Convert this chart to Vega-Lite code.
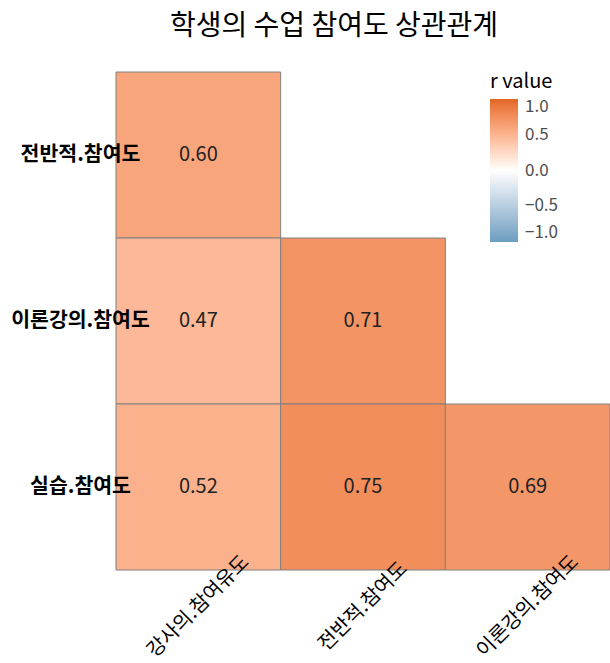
{
  "$schema": "https://vega.github.io/schema/vega-lite/v6.json",
  "width": 494,
  "height": 498,
  "autosize": {"type": "none"},
  "padding": {"left": 116, "top": 72, "right": 0, "bottom": 93},
  "background": "white",
  "config": {"view": {"stroke": null}, "font": "Noto Sans CJK KR"},
  "title": {
    "text": "학생의 수업 참여도 상관관계",
    "fontSize": 28,
    "fontWeight": "normal",
    "color": "black",
    "anchor": "middle",
    "dx": -29,
    "offset": 31
  },
  "data": {
    "values": [
      {"var1": "강사의.참여유도", "var2": "전반적.참여도", "r": 0.60},
      {"var1": "강사의.참여유도", "var2": "이론강의.참여도", "r": 0.47},
      {"var1": "강사의.참여유도", "var2": "실습.참여도", "r": 0.52},
      {"var1": "전반적.참여도", "var2": "이론강의.참여도", "r": 0.71},
      {"var1": "전반적.참여도", "var2": "실습.참여도", "r": 0.75},
      {"var1": "이론강의.참여도", "var2": "실습.참여도", "r": 0.69}
    ]
  },
  "encoding": {
    "x": {
      "field": "var1",
      "type": "nominal",
      "sort": ["강사의.참여유도", "전반적.참여도", "이론강의.참여도"],
      "scale": {"paddingInner": 0, "paddingOuter": 0},
      "axis": {
        "title": null,
        "orient": "bottom",
        "ticks": false,
        "tickSize": 0,
        "domain": false,
        "grid": false,
        "labelAngle": -45,
        "labelAlign": "center",
        "labelBaseline": "middle",
        "labelPadding": 36,
        "labelFontSize": 20,
        "labelColor": "black",
        "labelLimit": 0,
        "labelOverlap": false
      }
    },
    "y": {
      "field": "var2",
      "type": "nominal",
      "sort": ["전반적.참여도", "이론강의.참여도", "실습.참여도"],
      "scale": {"paddingInner": 0, "paddingOuter": 0},
      "axis": {
        "title": null,
        "orient": "left",
        "ticks": false,
        "tickSize": 0,
        "domain": false,
        "grid": false,
        "labelAlign": "center",
        "labelBaseline": "middle",
        "labelPadding": 36,
        "labelFontSize": 20.5,
        "labelFontWeight": "bold",
        "labelColor": "black",
        "labelLimit": 0,
        "labelOverlap": false
      }
    }
  },
  "layer": [
    {
      "mark": {"type": "rect", "stroke": "gray", "strokeWidth": 1},
      "encoding": {
        "color": {
          "field": "r",
          "type": "quantitative",
          "scale": {
            "domain": [-1, 0, 1],
            "range": ["#6D9EC1", "white", "#E46726"],
            "interpolate": "lab"
          },
          "legend": {
            "orient": "none",
            "legendX": 374,
            "legendY": 0,
            "title": "r value",
            "titleFontSize": 20,
            "titleFontWeight": "normal",
            "titleColor": "black",
            "titlePadding": 7,
            "gradientLength": 143,
            "gradientThickness": 28,
            "gradientStrokeWidth": 0,
            "labelFontSize": 17,
            "labelColor": "#4d4d4d",
            "labelOffset": 7,
            "values": [-1, -0.5, 0, 0.5, 1],
            "format": ".1f",
            "direction": "vertical"
          }
        }
      }
    },
    {
      "mark": {"type": "text", "fontSize": 20, "color": "#222222"},
      "encoding": {
        "text": {"field": "r", "type": "quantitative", "format": ".2f"}
      }
    }
  ]
}
